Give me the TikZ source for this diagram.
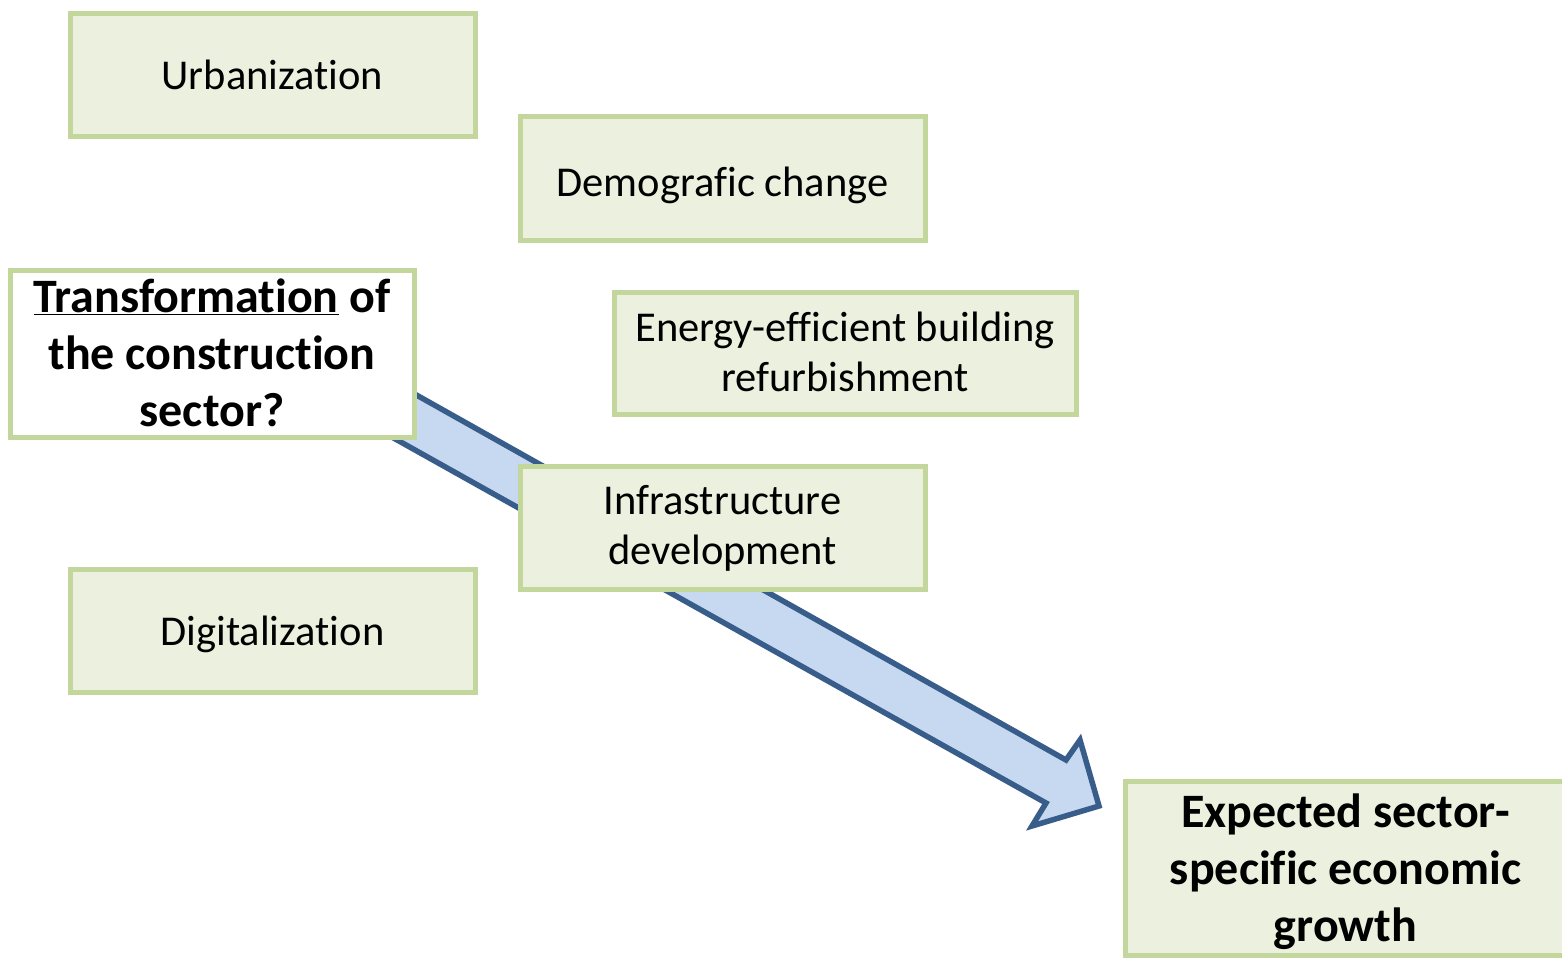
\documentclass[tikz,border=0pt]{standalone}
\usepackage{fontspec}
\setmainfont{Carlito}[Ligatures=NoCommon]

\definecolor{boxfill}{HTML}{EBF1DE}
\definecolor{boxline}{HTML}{C3D69B}
\definecolor{arrowfill}{HTML}{C6D9F1}
\definecolor{arrowline}{HTML}{385D8A}

\tikzset{
  factor/.style={draw=boxline,fill=boxfill,line width=5pt,inner sep=0pt,
    minimum width=405pt,minimum height=123pt,align=center,
    font=\fontsize{42.5pt}{50pt}\selectfont},
  keybox/.style={factor,font=\fontsize{48pt}{57pt}\selectfont\bfseries},
  textbox/.style 2 args={text height=#1,text depth=#2},
  bigarrow/.style={draw=arrowline,fill=arrowfill,line width=5.5pt,line join=miter}
}

\begin{document}
\begin{tikzpicture}[x=1pt,y=-1pt]
\useasboundingbox (0,0) rectangle (1562,960);
\clip (0,0) rectangle (1562,960);

% the big arrow, behind the boxes
\coordinate (tip) at (1099,806);
\draw[bigarrow] (331,347) -- (1066,760) -- (1080,740) -- (tip) -- (1032,826)
  -- (1046,803) -- (306,389) -- cycle;

\node[keybox,fill=white,minimum width=404pt,minimum height=167pt,textbox={146pt}{0pt}]
  (transf) at (212,353.5) {\underline{Transformation} of\\the construction\\sector?};
\node[factor,textbox={28pt}{0pt}] (urban) at (272.5,75.5) {Urbanization};
\node[factor,textbox={36pt}{0pt}] (demo) at (722.5,178.5) {Demografic change};
\node[factor,minimum width=462pt,minimum height=122pt,textbox={77pt}{0pt}]
  (energy) at (845,353) {Energy-efficient building\\refurbishment};
\node[factor,textbox={73pt}{0pt}] (infra) at (722.5,527.5) {Infrastructure\\development};
\node[factor,textbox={29pt}{0pt}] (digital) at (272.5,630.5) {Digitalization};
\node[keybox,minimum width=441pt,minimum height=174pt,textbox={147pt}{0pt}]
  (growth) at (1345.5,868) {Expected sector-\\specific economic\\growth};
\end{tikzpicture}
\end{document}
